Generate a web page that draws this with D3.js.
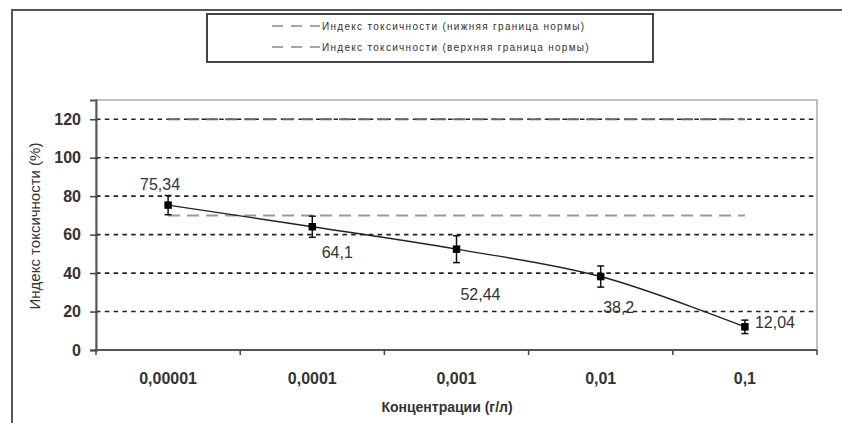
<!DOCTYPE html>
<html>
<head>
<meta charset="utf-8">
<script src="https://cdn.jsdelivr.net/npm/d3@7"></script>
<style>
  html, body { margin: 0; padding: 0; background: #fff; }
  svg { display: block; font-family: "Liberation Sans", Arial, sans-serif; }
</style>
</head>
<body>
<svg id="chart" width="842" height="423"></svg>
<script>
// data
const categories = ["0,00001", "0,0001", "0,001", "0,01", "0,1"];
const toxicity = [75.34, 64.1, 52.44, 38.2, 12.04];
const errors = [5, 5.5, 7, 5.5, 3.5];
const valueLabels = ["75,34", "64,1", "52,44", "38,2", "12,04"];
const normLower = 70;
const normUpper = 120;
const yTicks = [0, 20, 40, 60, 80, 100, 120];
const legendLabels = [
  "Индекс токсичности (нижняя граница нормы)",
  "Индекс токсичности (верхняя граница нормы)"
];

// layout
const plot = {left: 96, top: 100, right: 817, bottom: 350};
// data label offsets from the point (dx, dy, anchor)
const labelOffsets = [[-8, -15, "middle"], [25, 31, "middle"], [24, 51, "middle"], [18, 36, "middle"], [10, 1, "start"]];

const svg = d3.select("#chart");

// outer frame (runs off the picture right and bottom)
svg.append("rect")
  .attr("x", 12).attr("y", 10)
  .attr("width", 900).attr("height", 500)
  .attr("fill", "none")
  .attr("stroke", "#555")
  .attr("stroke-width", 2);

const x = d3.scaleBand()
  .domain(categories)
  .range([plot.left, plot.right])
  .padding(0);

const y = d3.scaleLinear()
  .domain([0, 130])
  .range([plot.bottom, plot.top]);

const cx = (d, i) => x(categories[i]) + x.bandwidth() / 2;

// plot area border (light grey)
svg.append("rect")
  .attr("x", plot.left).attr("y", plot.top)
  .attr("width", plot.right - plot.left)
  .attr("height", plot.bottom - plot.top)
  .attr("fill", "none")
  .attr("stroke", "#aaa")
  .attr("stroke-width", 1.5);

// gridlines
svg.append("g")
  .selectAll("line")
  .data(yTicks.filter(t => t > 0))
  .join("line")
  .attr("x1", plot.left).attr("x2", plot.right)
  .attr("y1", d => y(d)).attr("y2", d => y(d))
  .attr("stroke", "#222")
  .attr("stroke-width", 1.6)
  .attr("stroke-dasharray", "4.5,4.3");

// norm lines
const normGroup = svg.append("g");
[normLower, normUpper].forEach(v => {
  normGroup.append("line")
    .attr("x1", cx(null, 0)).attr("x2", cx(null, categories.length - 1))
    .attr("y1", y(v)).attr("y2", y(v))
    .attr("stroke", v === normUpper ? "#666" : "#999")
    .attr("stroke-width", 2)
    .attr("stroke-dasharray", "12,7");
});

// y axis
const yAxis = svg.append("g")
  .attr("transform", `translate(${plot.left},0)`)
  .call(d3.axisLeft(y).tickValues(yTicks).tickSize(6).tickPadding(9));
yAxis.select(".domain").attr("stroke", "#555").attr("stroke-width", 2);
yAxis.selectAll(".tick line").attr("stroke", "#444").attr("stroke-width", 1.5).attr("x2", -6).attr("x1", 2);
yAxis.selectAll(".tick text")
  .attr("fill", "#333")
  .attr("font-size", 16)
  .attr("font-weight", "bold")
  .attr("font-family", "Liberation Sans, Arial, sans-serif");

// x axis: line, boundary ticks, centred labels
const xAxis = svg.append("g");
xAxis.append("line")
  .attr("x1", plot.left - 2).attr("x2", plot.right)
  .attr("y1", plot.bottom).attr("y2", plot.bottom)
  .attr("stroke", "#555").attr("stroke-width", 2);
const bounds = categories.map(c => x(c)).concat([x(categories[categories.length - 1]) + x.step()]);
xAxis.selectAll(".xtick")
  .data(bounds)
  .join("line")
  .attr("class", "xtick")
  .attr("x1", d => d).attr("x2", d => d)
  .attr("y1", plot.bottom).attr("y2", plot.bottom + 5)
  .attr("stroke", "#444").attr("stroke-width", 1.5);
xAxis.selectAll(".xlabel")
  .data(categories)
  .join("text")
  .attr("class", "xlabel")
  .attr("x", (d, i) => cx(d, i))
  .attr("y", plot.bottom + 34)
  .attr("text-anchor", "middle")
  .attr("fill", "#333")
  .attr("font-size", 16)
  .attr("font-weight", "bold")
  .text(d => d);

// axis titles
svg.append("text")
  .attr("x", 447).attr("y", 412)
  .attr("text-anchor", "middle")
  .attr("fill", "#333")
  .attr("font-size", 14)
  .attr("font-weight", "bold")
  .text("Концентрации (г/л)");

svg.append("text")
  .attr("transform", "translate(40,226) rotate(-90)")
  .attr("text-anchor", "middle")
  .attr("fill", "#333")
  .attr("font-size", 15)
  .text("Индекс токсичности (%)");

// series line
const line = d3.line()
  .x((d, i) => cx(d, i))
  .y(d => y(d))
  .curve(d3.curveCatmullRom.alpha(0.5));

svg.append("path")
  .datum(toxicity)
  .attr("d", line)
  .attr("fill", "none")
  .attr("stroke", "#222")
  .attr("stroke-width", 1.4);

// error bars
const eb = svg.append("g").attr("stroke", "#111").attr("stroke-width", 1.5);
toxicity.forEach((v, i) => {
  const px = cx(v, i);
  const y1 = y(v + errors[i]), y2 = y(v - errors[i]);
  eb.append("line").attr("x1", px).attr("x2", px).attr("y1", y1).attr("y2", y2);
  eb.append("line").attr("x1", px - 3.5).attr("x2", px + 3.5).attr("y1", y1).attr("y2", y1);
  eb.append("line").attr("x1", px - 3.5).attr("x2", px + 3.5).attr("y1", y2).attr("y2", y2);
});

// markers
svg.append("g")
  .selectAll("path")
  .data(toxicity)
  .join("path")
  .attr("transform", (d, i) => `translate(${cx(d, i)},${y(d)})`)
  .attr("d", d3.symbol(d3.symbolSquare, 56))
  .attr("fill", "#000");

// data labels
svg.append("g")
  .selectAll("text")
  .data(toxicity)
  .join("text")
  .attr("x", (d, i) => cx(d, i) + labelOffsets[i][0])
  .attr("y", (d, i) => y(d) + labelOffsets[i][1])
  .attr("text-anchor", (d, i) => labelOffsets[i][2])
  .attr("fill", "#333")
  .attr("font-size", 16)
  .text((d, i) => valueLabels[i]);

// legend
const legend = svg.append("g");
legend.append("rect")
  .attr("x", 207).attr("y", 14)
  .attr("width", 446).attr("height", 48)
  .attr("fill", "#fff")
  .attr("stroke", "#444")
  .attr("stroke-width", 2);
legendLabels.forEach((lbl, i) => {
  const ly = 26 + i * 21;
  legend.append("line")
    .attr("x1", 272).attr("x2", 320)
    .attr("y1", ly).attr("y2", ly)
    .attr("stroke", "#888")
    .attr("stroke-width", 1.5)
    .attr("stroke-dasharray", "11,8");
  legend.append("text")
    .attr("x", 322).attr("y", ly + 3.5)
    .attr("fill", "#333")
    .attr("font-size", 10)
    .attr("letter-spacing", "1.3px")
    .text(lbl);
});
</script>
</body>
</html>
